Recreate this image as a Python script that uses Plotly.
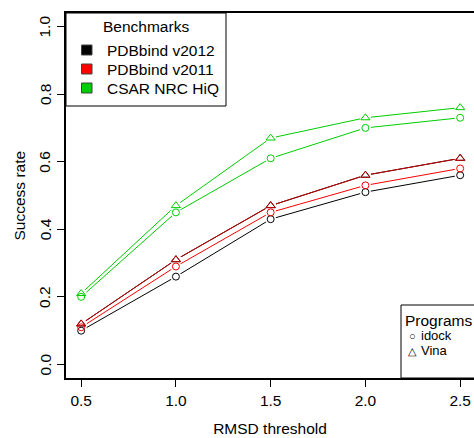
import plotly.graph_objects as go

# ---- data ----
rmsd = [0.5, 1.0, 1.5, 2.0, 2.5]
x_ticklabels = ["0.5", "1.0", "1.5", "2.0", "2.5"]
y_tickvals = [0.0, 0.2, 0.4, 0.6, 0.8, 1.0]
y_ticklabels = ["0.0", "0.2", "0.4", "0.6", "0.8", "1.0"]

v2012_idock = [0.10, 0.26, 0.43, 0.51, 0.56]
v2012_vina = [0.12, 0.31, 0.47, 0.56, 0.61]
v2011_idock = [0.11, 0.29, 0.45, 0.53, 0.58]
v2011_vina = [0.12, 0.31, 0.47, 0.56, 0.61]
csar_idock = [0.20, 0.45, 0.61, 0.70, 0.73]
csar_vina = [0.21, 0.47, 0.67, 0.73, 0.76]

benchmarks = ["PDBbind v2012", "PDBbind v2011", "CSAR NRC HiQ"]
bench_colors = ["#000000", "#FF0000", "#00CD00"]
programs = ["idock", "Vina"]
program_glyphs = ["○", "△"]

FONT = "Liberation Sans, Arial, Helvetica, sans-serif"
FS = 15.5

series = [
    (v2012_idock, "#000000", "circle-open", 7),
    (v2012_vina, "#000000", "triangle-up-open", 8),
    (v2011_idock, "#FF0000", "circle-open", 7),
    (v2011_vina, "#C80000", "triangle-up-open", 8),
    (csar_idock, "#00CD00", "circle-open", 7),
    (csar_vina, "#00CD00", "triangle-up-open", 8),
]

fig = go.Figure()
for vals, col, sym, sz in series:
    fig.add_trace(go.Scatter(x=rmsd, y=vals, mode="lines",
                             line=dict(color=col, width=1), showlegend=False,
                             hoverinfo="skip"))
# gaps around points (R type="b")
for vals, col, sym, sz in series:
    fig.add_trace(go.Scatter(x=rmsd, y=vals, mode="markers",
                             marker=dict(symbol="circle", size=11, color="white",
                                         line=dict(width=0)),
                             showlegend=False, hoverinfo="skip"))
for vals, col, sym, sz in series:
    fig.add_trace(go.Scatter(x=rmsd, y=vals, mode="markers",
                             marker=dict(symbol=sym, size=sz, color=col,
                                         line=dict(color=col, width=1)),
                             showlegend=False))

W, H = 474, 438
L, R, T, B = 66, 0, 13, 60
plot_w = W - L - R
plot_h = H - T - B
px_per_unit = 189.5
x0 = 0.42


def py(p):
    return (H - B - p) / plot_h


def pxx(p):
    return (p - L) / plot_w


shapes = []
annos = []

# ---- Benchmarks legend (top-left) ----
shapes.append(dict(type="rect", xref="paper", yref="paper",
                   x0=pxx(66), x1=pxx(226), y0=py(106), y1=py(13),
                   line=dict(color="black", width=1), fillcolor="white",
                   layer="above"))
annos.append(dict(text="Benchmarks", x=pxx(146), y=py(27), xanchor="center",
                  yanchor="middle", font=dict(size=FS)))
row_y = [50, 69, 88]
for name, col, ry in zip(benchmarks, bench_colors, row_y):
    shapes.append(dict(type="rect", xref="paper", yref="paper",
                       x0=pxx(81.5), x1=pxx(92), y0=py(ry + 5), y1=py(ry - 5),
                       line=dict(color="#444444", width=1), fillcolor=col,
                       layer="above"))
    annos.append(dict(text=name, x=pxx(105), y=py(ry), xanchor="left",
                      yanchor="middle", font=dict(size=FS)))

# ---- Programs legend (bottom-right, clipped like the original) ----
shapes.append(dict(type="rect", xref="paper", yref="paper",
                   x0=pxx(401), x1=1.02, y0=0, y1=py(305),
                   line=dict(color="black", width=1), fillcolor="white",
                   layer="above"))
annos.append(dict(text="Programs", x=pxx(402.5), y=py(320), xanchor="left",
                  yanchor="middle", font=dict(size=FS)))
for name, glyph, ry in zip(programs, program_glyphs, [336, 351]):
    annos.append(dict(text=glyph, x=pxx(412), y=py(ry), xanchor="center",
                      yanchor="middle", font=dict(size=11)))
    annos.append(dict(text=name, x=pxx(419), y=py(ry - 1), xanchor="left",
                      yanchor="middle", font=dict(size=13)))

# ---- rotated y tick labels and title ----
for v, t in zip(y_tickvals, y_ticklabels):
    annos.append(dict(text=t, x=pxx(45), y=v, yref="y", xanchor="center",
                      yanchor="middle", textangle=-90, font=dict(size=FS)))
annos.append(dict(text="Success rate", x=pxx(19), y=0.5, xanchor="center",
                  yanchor="middle", textangle=-90, font=dict(size=FS)))

for a in annos:
    a.setdefault("xref", "paper")
    a.setdefault("yref", "paper")
    a["showarrow"] = False
    a["font"].update(family=FONT, color="black")

fig.update_layout(
    width=W, height=H,
    margin=dict(l=L, r=R, t=T, b=B, pad=0),
    paper_bgcolor="white", plot_bgcolor="white",
    font=dict(family=FONT, size=FS, color="black"),
    annotations=annos, shapes=shapes,
    showlegend=False,
    xaxis=dict(range=[x0, x0 + plot_w / px_per_unit],
               tickvals=rmsd, ticktext=x_ticklabels,
               tickfont=dict(family=FONT, size=FS, color="black"),
               ticks="outside", ticklen=7, tickwidth=1, tickcolor="black",
               showline=True, linecolor="black", linewidth=2, mirror=True,
               showgrid=False, zeroline=False,
               title=dict(text="RMSD threshold", standoff=16,
                          font=dict(family=FONT, size=FS, color="black"))),
    yaxis=dict(range=[-0.04, 1.04],
               tickvals=y_tickvals, showticklabels=False,
               ticks="outside", ticklen=7, tickwidth=1, tickcolor="black",
               showline=True, linecolor="black", linewidth=2, mirror=False,
               showgrid=False, zeroline=False),
)

fig.write_html("out.html", config={"displayModeBar": False},
               post_script="document.body.style.margin='0';document.body.style.overflow='hidden';")
